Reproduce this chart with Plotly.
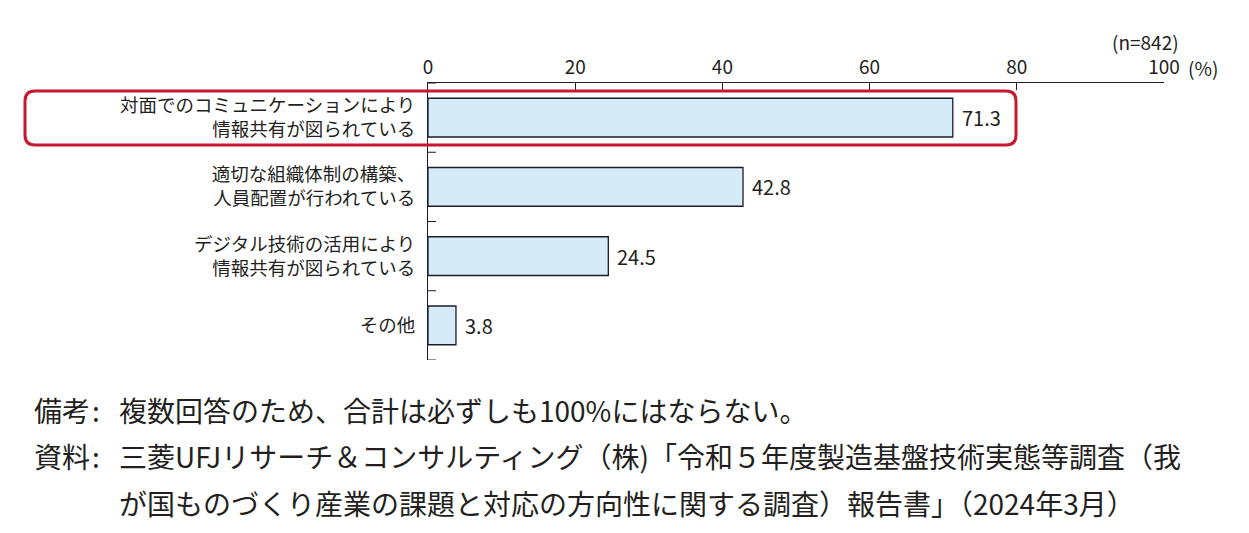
import plotly.graph_objects as go

categories = [
    "対面でのコミュニケーションにより<br>情報共有が図られている",
    "適切な組織体制の構築、<br>人員配置が行われている",
    "デジタル技術の活用により<br>情報共有が図られている",
    "その他",
]
values = [71.3, 42.8, 24.5, 3.8]
x_ticks = [0, 20, 40, 60, 80, 100]
x_ticktext = ["0", "20", "40", "60", "80", "100"]
sample_note = "(n=842)"
unit_note = "(%)"
note_label = "備考"
note_text = "複数回答のため、合計は必ずしも100%にはならない。"
source_label = "資料"
source_line1 = "三菱UFJリサーチ＆コンサルティング（株)「令和５年度製造基盤技術実態等調査（我"
source_line2 = "が国ものづくり産業の課題と対応の方向性に関する調査）報告書」（2024年3月）"

W, H = 1249, 533
ML, MR, MT, MB = 428, 85, 83, 173
PW, PH = W - ML - MR, H - MT - MB

def px_x(px):
    return (px - ML) / PW

def px_y(py):
    return (H - MB - py) / PH

FONT = "Noto Sans CJK JP"
TXT = "#231f20"
INK = "#1d1d2b"

fig = go.Figure()
fig.add_trace(go.Bar(
    x=values, y=list(range(len(categories))), orientation="h",
    width=0.56,
    marker=dict(color="#d6ebf8", line=dict(color=INK, width=1.3)),
    hoverinfo="skip",
))

# rounded highlight box around the first category
x0, x1 = px_x(25), px_x(1016)
y0, y1 = px_y(145), px_y(91)
rx, ry = 10 / PW, 10 / PH
path = (f"M {x0+rx},{y1} L {x1-rx},{y1} Q {x1},{y1} {x1},{y1-ry} "
        f"L {x1},{y0+ry} Q {x1},{y0} {x1-rx},{y0} L {x0+rx},{y0} "
        f"Q {x0},{y0} {x0},{y0+ry} L {x0},{y1-ry} Q {x0},{y1} {x0+rx},{y1} Z")
fig.add_shape(type="path", path=path, xref="paper", yref="paper",
              line=dict(color="#c4192f", width=3), layer="above")

ann = []
# value labels
for i, v in enumerate(values):
    ann.append(dict(text=f"{v:.1f}", x=v, y=i, xref="x", yref="y",
                    xanchor="left", yanchor="middle", xshift=7, showarrow=False,
                    font=dict(size=20, color=TXT, family=FONT)))

pa = []
pa.append(dict(text=sample_note, x=px_x(1181), y=px_y(41), xanchor="right", yanchor="middle",
               font=dict(size=19, color=TXT, family=FONT)))
pa.append(dict(text=unit_note, x=px_x(1186), y=px_y(68), xanchor="left", yanchor="middle",
               font=dict(size=19, color=TXT, family=FONT)))
FS = 28
for lab, content, cy in [(note_label, note_text, 410),
                         (source_label, source_line1, 456)]:
    pa.append(dict(text=lab, x=px_x(32), y=px_y(cy), xanchor="left", yanchor="middle",
                   font=dict(size=FS, color=TXT, family=FONT)))
    pa.append(dict(text=":", x=px_x(96), y=px_y(cy), xanchor="center", yanchor="middle",
                   font=dict(size=FS, color=TXT, family=FONT)))
    pa.append(dict(text=content, x=px_x(117), y=px_y(cy), xanchor="left", yanchor="middle",
                   font=dict(size=FS, color=TXT, family=FONT)))
pa.append(dict(text=source_line2, x=px_x(117), y=px_y(503), xanchor="left", yanchor="middle",
               font=dict(size=FS, color=TXT, family=FONT)))
for a in pa:
    a.update(xref="paper", yref="paper", showarrow=False)
ann += pa

fig.update_layout(
    width=W, height=H,
    margin=dict(l=ML, r=MR, t=MT, b=MB, pad=0),
    paper_bgcolor="white", plot_bgcolor="white",
    showlegend=False,
    font=dict(family=FONT, color=TXT),
    annotations=ann,
    xaxis=dict(
        side="top", range=[0, 100], tickvals=x_ticks, ticktext=x_ticktext,
        ticks="inside", ticklen=7, tickwidth=1, tickcolor=INK,
        showline=True, linecolor=INK, linewidth=1,
        showgrid=False, zeroline=False,
        tickfont=dict(size=19, color=TXT, family=FONT),
        fixedrange=True,
    ),
    yaxis=dict(
        range=[len(categories) - 0.5, -0.5],
        tickvals=list(range(len(categories))), ticktext=categories,
        ticks="", showline=True, linecolor=INK, linewidth=1,
        showgrid=False, zeroline=False,
        tickfont=dict(size=18.5, color=TXT, family=FONT),
        ticklabelstandoff=8,
        fixedrange=True,
    ),
)

# category boundary ticks on the left axis (pointing into the plot)
for i in range(len(categories) + 1):
    fig.add_shape(type="line", xref="paper", yref="y",
                  x0=0, x1=px_x(ML + 8), y0=i - 0.5, y1=i - 0.5,
                  line=dict(color=INK, width=1))

fig.write_html("out.html")
